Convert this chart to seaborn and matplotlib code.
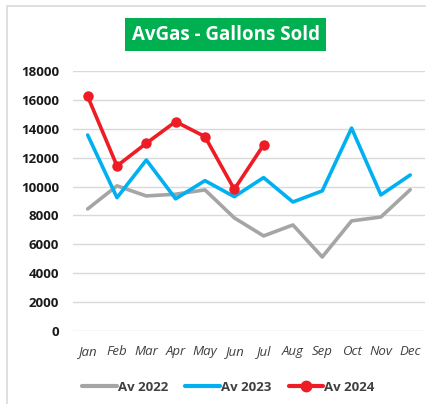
import matplotlib
matplotlib.use("Agg")
import matplotlib.pyplot as plt
import seaborn as sns
import pandas as pd
from matplotlib.patches import Rectangle

# monthly gallons sold
months = ["Jan", "Feb", "Mar", "Apr", "May", "Jun", "Jul", "Aug", "Sep", "Oct", "Nov", "Dec"]
av_2022 = [8450, 10050, 9350, 9470, 9770, 7830, 6580, 7340, 5120, 7620, 7890, 9780]
av_2023 = [13570, 9230, 11840, 9150, 10410, 9300, 10620, 8930, 9700, 14050, 9420, 10800]
av_2024 = [16250, 11430, 13000, 14500, 13460, 9810, 12880]
y_ticks = [0, 2000, 4000, 6000, 8000, 10000, 12000, 14000, 16000, 18000]

series_colors = {"Av 2022": "#A5A5A5", "Av 2023": "#00B0F0", "Av 2024": "#EE1C25"}

rows = []
for name, vals in [("Av 2022", av_2022), ("Av 2023", av_2023), ("Av 2024", av_2024)]:
    for i, v in enumerate(vals):
        rows.append({"month": i, "series": name, "gallons": v})
df = pd.DataFrame(rows)

sns.set_style("white")
plt.rcParams["font.family"] = ["Open Sans", "DejaVu Sans"]

fig = plt.figure(figsize=(4.27, 4.04), dpi=100)
ax = fig.add_axes([0.171, 0.181, 0.824, 0.643])

# chart area border
fig.patches.append(Rectangle((7 / 427, -0.2), 1.2, 1 - 6 / 404 + 0.2,
                             transform=fig.transFigure, fill=False,
                             edgecolor="#D9D9D9", linewidth=1.2, zorder=0))

sns.lineplot(data=df[df.series != "Av 2024"], x="month", y="gallons", hue="series",
             palette=series_colors, linewidth=2.6, ax=ax, legend=False)
sns.lineplot(data=df[df.series == "Av 2024"], x="month", y="gallons", color=series_colors["Av 2024"],
             linewidth=2.6, marker="o", markersize=7.5, markeredgewidth=0, ax=ax, legend=False)

ax.set_xlim(-0.5, 11.5)
ax.set_ylim(0, 18000)
ax.set_yticks(y_ticks)
ax.set_yticklabels([str(t) for t in y_ticks], fontweight="bold", fontsize=9.5, color="#1a1a1a")
ax.set_xticks(range(12))
ax.set_xticklabels(months, fontstyle="italic", fontsize=9.5, color="#404040")
ax.tick_params(axis="x", length=0, pad=10)
ax.tick_params(axis="y", length=0, pad=10)
ax.grid(axis="y", color="#D9D9D9", linewidth=1)
ax.set_axisbelow(True)
for s in ax.spines.values():
    s.set_visible(False)
ax.set_xlabel("")
ax.set_ylabel("")

# legend
handles = [
    plt.Line2D([], [], color=series_colors["Av 2022"], linewidth=3),
    plt.Line2D([], [], color=series_colors["Av 2023"], linewidth=3),
    plt.Line2D([], [], color=series_colors["Av 2024"], linewidth=3, marker="o", markersize=7.5),
]
leg = fig.legend(handles, ["Av 2022", "Av 2023", "Av 2024"], loc="center",
                 bbox_to_anchor=(0.535, 0.042), ncol=3, frameon=False,
                 handlelength=2.6, handletextpad=0.1, columnspacing=1.3,
                 prop={"weight": "bold", "size": 9.5})
for t in leg.get_texts():
    t.set_color("#404040")

# title box
fig.text(0.529, 0.914, "AvGas - Gallons Sold", ha="center", va="center",
         fontsize=13.5, fontweight="bold", color="white",
         bbox=dict(boxstyle="square,pad=0.35", facecolor="#00B050", edgecolor="none"))

fig.savefig("out.png", dpi=100)
